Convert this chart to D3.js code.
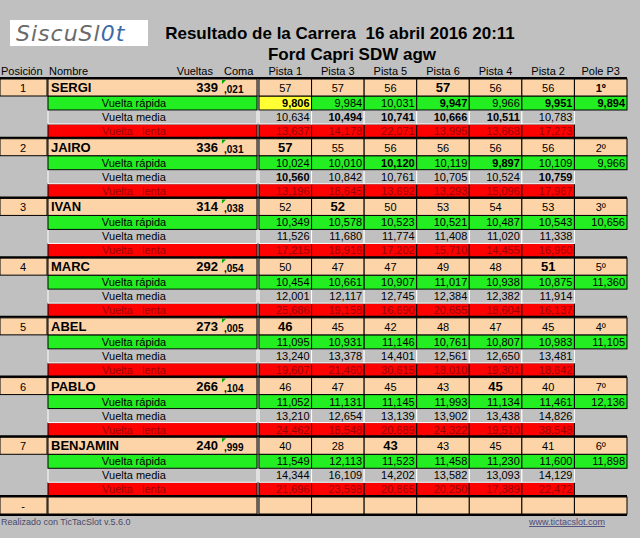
<!DOCTYPE html>
<html><head><meta charset="utf-8">
<script src="https://cdn.jsdelivr.net/npm/d3@7"></script>
<style>body{margin:0;background:#c0c0c0;}svg{display:block;font-family:"Liberation Sans",Arial,sans-serif;}</style>
</head><body>
<script>
const pistas = ["Pista 1", "Pista 3", "Pista 5", "Pista 6", "Pista 4", "Pista 2"];
const names = ["SERGI", "JAIRO", "IVAN", "MARC", "ABEL", "PABLO", "BENJAMIN"];
const vueltas = [339, 336, 314, 292, 273, 266, 240];
const coma = [",021", ",031", ",038", ",054", ",005", ",104", ",999"];
const laps = [
  [57, 57, 56, 57, 56, 56], [57, 55, 56, 56, 56, 56], [52, 52, 50, 53, 54, 53],
  [50, 47, 47, 49, 48, 51], [46, 45, 42, 48, 47, 45], [46, 47, 45, 43, 45, 40],
  [40, 28, 43, 43, 45, 41]];
const lapBold = [3, 0, 1, 5, 0, 4, 2];
const pole = ["1º", "2º", "3º", "5º", "4º", "7º", "6º"];
const rapida = [
  ["9,806", "9,984", "10,031", "9,947", "9,966", "9,951", "9,894"],
  ["10,024", "10,010", "10,120", "10,119", "9,897", "10,109", "9,966"],
  ["10,349", "10,578", "10,523", "10,521", "10,487", "10,543", "10,656"],
  ["10,454", "10,661", "10,907", "11,017", "10,938", "10,875", "11,360"],
  ["11,095", "10,931", "11,146", "10,761", "10,807", "10,983", "11,105"],
  ["11,052", "11,131", "11,145", "11,993", "11,134", "11,461", "12,136"],
  ["11,549", "12,113", "11,523", "11,458", "11,230", "11,600", "11,898"]];
const rapidaBold = [[0, 3, 5, 6], [2, 4], [], [], [], [], []];
const media = [
  ["10,634", "10,494", "10,741", "10,666", "10,511", "10,783"],
  ["10,560", "10,842", "10,761", "10,705", "10,524", "10,759"],
  ["11,526", "11,680", "11,774", "11,408", "11,020", "11,338"],
  ["12,001", "12,117", "12,745", "12,384", "12,382", "11,914"],
  ["13,240", "13,378", "14,401", "12,561", "12,650", "13,481"],
  ["13,210", "12,654", "13,139", "13,902", "13,438", "14,826"],
  ["14,344", "16,109", "14,202", "13,582", "13,093", "14,129"]];
const mediaBold = [[1, 2, 3, 4], [0, 5], [], [], [], [], []];
const lenta = [
  ["13,637", "14,178", "22,071", "13,995", "13,668", "17,273"],
  ["13,196", "18,645", "13,692", "13,293", "15,096", "17,967"],
  ["17,215", "18,916", "17,202", "15,710", "14,455", "16,960"],
  ["25,686", "19,158", "16,690", "20,655", "18,604", "16,137"],
  ["19,607", "21,460", "30,615", "18,010", "19,301", "18,642"],
  ["24,462", "18,548", "20,689", "24,322", "19,510", "38,548"],
  ["21,696", "23,598", "20,865", "20,250", "17,389", "22,472"]];

const W = 640, H = 538;
const svg = d3.select("body").append("svg").attr("width", W).attr("height", H);
svg.append("rect").attr("width", W).attr("height", H).attr("fill", "#c0c0c0");

const PEACH = "#fcd4a8", GREEN = "#22ee22", RED = "#ff0000", GRAY = "#c0c0c0";

// layout: columns
const x = d3.scaleBand().domain(pistas.concat(["Pole P3"])).range([259, 627]);
const y = d3.scaleLinear().domain([0, 7]).range([79, 497]);

// logo
svg.append("rect").attr("x", 10).attr("y", 20).attr("width", 138).attr("height", 26).attr("fill", "#fff");
svg.append("text").attr("x", 16).attr("y", 41).attr("font-size", 22).attr("font-style", "italic")
  .attr("font-family", "DejaVu Sans").attr("fill", "#6a6a6a").attr("letter-spacing", 1)
  .text("SiscuSl").append("tspan").attr("fill", "#3a6aa8").text("0t");

svg.append("text").attr("x", 340).attr("y", 39).attr("text-anchor", "middle").attr("font-weight", "bold")
  .attr("font-size", 17).attr("xml:space", "preserve").text("Resultado de la Carrera  16 abril 2016 20:11");
svg.append("text").attr("x", 352).attr("y", 60).attr("text-anchor", "middle").attr("font-weight", "bold")
  .attr("font-size", 17).text("Ford Capri SDW agw");

// column headers
const hdr = svg.append("g").attr("font-size", 11).attr("transform", "translate(0,75)");
hdr.append("text").attr("x", 1).text("Posición");
hdr.append("text").attr("x", 49).text("Nombre");
hdr.append("text").attr("x", 213).attr("text-anchor", "end").text("Vueltas");
hdr.append("text").attr("x", 224).text("Coma");
x.domain().forEach(d => hdr.append("text").attr("x", x(d) + x.bandwidth() / 2).attr("text-anchor", "middle").text(d));

function cell(g, x0, y0, w, h, fill, stroke) {
  g.append("rect").attr("x", x0).attr("y", y0).attr("width", w).attr("height", h)
    .attr("fill", fill).attr("stroke", stroke || "#000").attr("stroke-width", 1);
}

names.forEach((name, i) => {
  const g = svg.append("g");
  const y0 = y(i);
  const rows = [
    {label: "Vuelta rápida", vals: rapida[i], fill: GREEN, txt: "#000", bold: rapidaBold[i], top: y0 + 17, h: 14},
    {label: "Vuelta media", vals: media[i], fill: GRAY, txt: "#000", bold: mediaBold[i], top: y0 + 31, h: 14, stroke: "#fff"},
    {label: "Vuelta   lenta", vals: lenta[i], fill: RED, txt: "#9a0000", bold: [], top: y0 + 45, h: 14}
  ];
  rows.slice().reverse().forEach(r => {
    cell(g, 48, r.top, 209, r.h, r.fill, r.stroke || "#000");
    g.append("text").attr("x", 134).attr("y", r.top + r.h - 3).attr("font-size", 11)
      .attr("fill", r.txt).attr("xml:space", "preserve").attr("text-anchor", "middle").text(r.label);
    r.vals.forEach((v, j) => {
      const c = x.domain()[j];
      const yellow = i === 0 && j === 0 && r.fill === GREEN;
      cell(g, x(c), r.top, x.bandwidth(), r.h, yellow ? "#ffff33" : r.fill, r.stroke || "#000");
      g.append("text").attr("x", x(c) + x.bandwidth() - 2).attr("y", r.top + r.h - 3)
        .attr("text-anchor", "end").attr("font-size", 11).attr("fill", r.txt)
        .attr("font-weight", r.bold.includes(j) ? "bold" : "normal").text(v);
    });
  });
  // header row
  g.append("line").attr("x1", 0).attr("x2", 627).attr("y1", y0 - 1).attr("y2", y0 - 1).attr("stroke", "#000").attr("stroke-width", 2);
  cell(g, 0, y0, 47, 17, PEACH);
  cell(g, 48, y0, 209, 17, PEACH);
  g.append("text").attr("x", 23).attr("y", y0 + 13).attr("text-anchor", "middle").attr("font-size", 11).text(i + 1);
  g.append("text").attr("x", 51).attr("y", y0 + 13).attr("font-size", 13).attr("font-weight", "bold").text(name);
  g.append("text").attr("x", 218).attr("y", y0 + 13).attr("text-anchor", "end").attr("font-size", 13).attr("font-weight", "bold").text(vueltas[i]);
  g.append("text").attr("x", 224).attr("y", y0 + 14).attr("font-size", 10).attr("font-weight", "bold").text(coma[i]);
  g.append("path").attr("d", `M222,${y0 + 1}h4l-4,4z`).attr("fill", "#0a0");
  laps[i].forEach((v, j) => {
    const c = x.domain()[j];
    cell(g, x(c), y0, x.bandwidth(), 17, PEACH);
    g.append("text").attr("x", x(c) + x.bandwidth() / 2).attr("y", y0 + 13).attr("text-anchor", "middle")
      .attr("font-size", lapBold[i] === j ? 13 : 11).attr("font-weight", lapBold[i] === j ? "bold" : "normal").text(v);
  });
  const pc = x.domain()[6];
  cell(g, x(pc), y0, x.bandwidth(), 17, PEACH);
  g.append("text").attr("x", x(pc) + x.bandwidth() / 2).attr("y", y0 + 13).attr("text-anchor", "middle")
    .attr("font-size", 11).attr("font-weight", i === 0 ? "bold" : "normal").text(pole[i]);
});

// empty last row
const ye = y(7);
const ge = svg.append("g");
ge.append("line").attr("x1", 0).attr("x2", 627).attr("y1", ye - 1).attr("y2", ye - 1).attr("stroke", "#000").attr("stroke-width", 2);
cell(ge, 0, ye, 47, 17, PEACH);
cell(ge, 48, ye, 209, 17, PEACH);
x.domain().forEach(c => cell(ge, x(c), ye, x.bandwidth(), 17, PEACH));
ge.append("text").attr("x", 23).attr("y", ye + 13).attr("text-anchor", "middle").attr("font-size", 11).text("-");
ge.append("line").attr("x1", 0).attr("x2", 627).attr("y1", ye + 18).attr("y2", ye + 18).attr("stroke", "#000").attr("stroke-width", 2);

svg.append("text").attr("x", 1).attr("y", 525).attr("font-size", 9).attr("fill", "#4a4a6a").text("Realizado con TicTacSlot v.5.6.0");
svg.append("text").attr("x", 605).attr("y", 525).attr("text-anchor", "end").attr("font-size", 9).attr("fill", "#4a4a7a")
  .attr("text-decoration", "underline").text("www.tictacslot.com");
</script>
</body></html>
